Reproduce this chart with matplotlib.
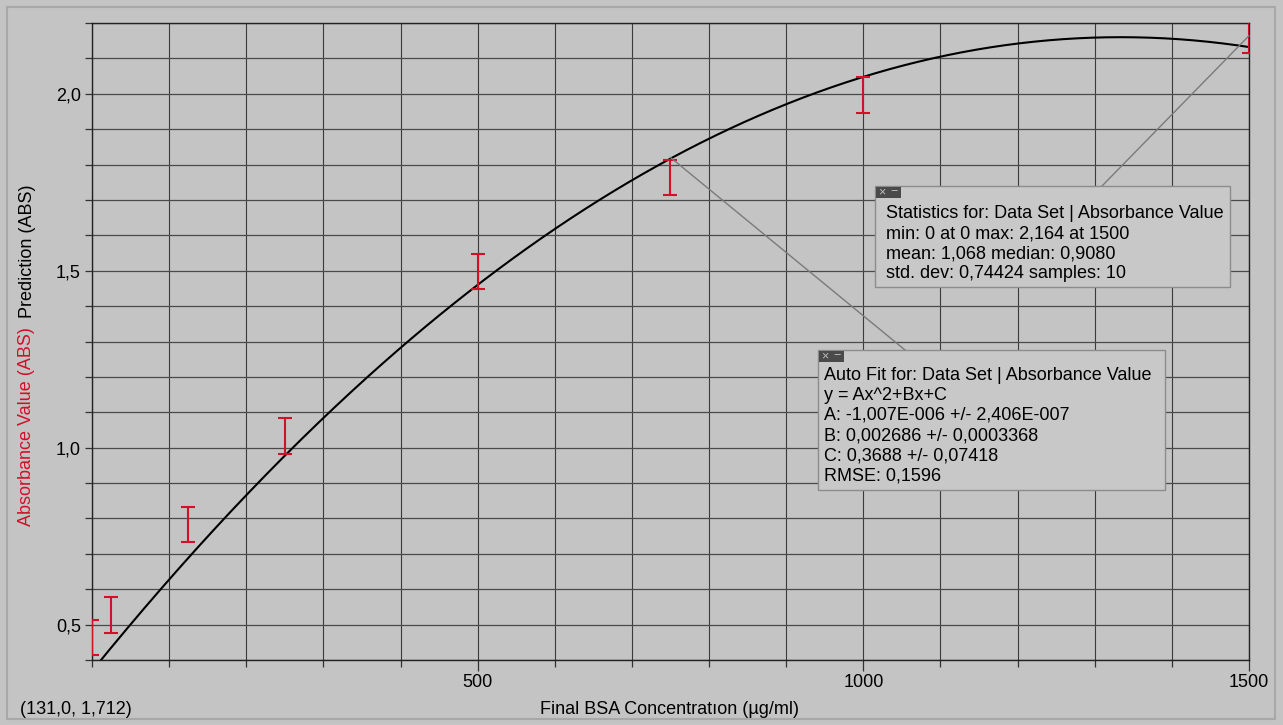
import numpy as np
import matplotlib
matplotlib.use("Agg")
import matplotlib.pyplot as plt
from matplotlib.patches import Rectangle
from matplotlib.lines import Line2D
from matplotlib.ticker import MultipleLocator, FixedLocator

plt.rcParams['font.family'] = ['Liberation Sans', 'DejaVu Sans']

# BSA concentration (ug/ml) and measured absorbance
conc = [0, 0, 25, 125, 250, 500, 750, 1000, 1500]
absorb = [0.0, 0.463, 0.527, 0.783, 1.033, 1.497, 1.764, 1.996, 2.164]
err = [0.05, 0.05, 0.05, 0.05, 0.05, 0.05, 0.05, 0.05, 0.05]

# quadratic auto-fit coefficients from the chart
fit_a = -1.007e-6
fit_b = 0.002686
fit_c = 0.3688

stats_lines = ["Statistics for: Data Set | Absorbance Value",
               "min: 0 at 0 max: 2,164 at 1500",
               "mean: 1,068 median: 0,9080",
               "std. dev: 0,74424 samples: 10"]
fit_lines = ["Auto Fit for: Data Set | Absorbance Value",
             "y = Ax^2+Bx+C",
             "A: -1,007E-006 +/- 2,406E-007",
             "B: 0,002686 +/- 0,0003368",
             "C: 0,3688 +/- 0,07418",
             "RMSE: 0,1596"]

W, H = 1283, 725
bg = '#c4c4c4'
fs = 13
fig = plt.figure(figsize=(W / 100, H / 100), dpi=100, facecolor=bg)


def fx(px):
    return px / W


def fy(py):
    return 1 - py / H


# outer panel frame
fig.patches.append(Rectangle((fx(7), fy(719)), fx(1268), 712 / H,
                             transform=fig.transFigure, fill=False, edgecolor='#a8a8a8', lw=1.5))

ax = fig.add_axes([fx(92), fy(660), fx(1249 - 92), (660 - 23) / H])
ax.set_facecolor(bg)
ax.set_xlim(0, 1500)
ax.set_ylim(0.4, 2.2)

ax.xaxis.set_major_locator(FixedLocator([500, 1000, 1500]))
ax.xaxis.set_minor_locator(MultipleLocator(100))
ax.yaxis.set_major_locator(FixedLocator([0.5, 1.0, 1.5, 2.0]))
ax.yaxis.set_minor_locator(MultipleLocator(0.1))
ax.set_xticklabels(['500', '1000', '1500'], fontsize=fs)
ax.set_yticklabels(['0,5', '1,0', '1,5', '2,0'], fontsize=fs)
ax.tick_params(which='major', length=8, width=0.9, color='#333333', pad=2)
ax.tick_params(axis='y', which='major', length=5, pad=3)
ax.tick_params(which='minor', length=5, width=0.9, color='#333333')
ax.grid(True, which='both', axis='x', color='#3a3a3a', lw=0.8)
ax.grid(True, which='both', axis='y', color='#4a4a4a', lw=0.9)
for s in ax.spines.values():
    s.set_color('#222222')
    s.set_linewidth(1.0)

# fitted curve
xs = np.linspace(0, 1500, 400)
ax.plot(xs, fit_a * xs ** 2 + fit_b * xs + fit_c, color='black', lw=1.5, zorder=3)

# measured values as error bars
ax.errorbar(conc, absorb, yerr=err, fmt='none', ecolor='#d2102a',
            elinewidth=1.5, capsize=5, capthick=1.5, zorder=4)

fig.text(fx(670), fy(709), 'Final BSA Concentratıon (µg/ml)', fontsize=fs,
         ha='center', va='center')
fig.text(fx(27), fy(427), 'Absorbance Value (ABS)', color='#d2102a', fontsize=fs,
         rotation=90, ha='center', va='center')
fig.text(fx(27), fy(251), 'Prediction (ABS)', color='black', fontsize=fs,
         rotation=90, ha='center', va='center')
fig.text(fx(20), fy(709), '(131,0, 1,712)', fontsize=fs, ha='left', va='center')


def box(left, top, right, bottom, lines, tx, ty0, dy):
    fig.patches.append(Rectangle((fx(left), fy(bottom)), fx(right - left), (bottom - top) / H,
                                 transform=fig.transFigure, facecolor='#c8c8c8',
                                 edgecolor='#8c8c8c', lw=1.0, zorder=5))
    fig.patches.append(Rectangle((fx(left + 1), fy(top + 12)), fx(25), 11 / H,
                                 transform=fig.transFigure, facecolor='#4a4a4a',
                                 edgecolor='none', zorder=6))
    fig.text(fx(left + 7), fy(top + 6), '×', color='#bbbbbb', fontsize=9,
             ha='center', va='center', zorder=7)
    fig.text(fx(left + 19), fy(top + 6), '−', color='#bbbbbb', fontsize=9,
             ha='center', va='center', zorder=7)
    for i, t in enumerate(lines):
        fig.text(fx(tx), fy(ty0 + i * dy), t, fontsize=fs, ha='left',
                 va='center', zorder=7)


def leader(x, y, px, py):
    p = ax.transData.transform((x, y))
    q = fig.transFigure.inverted().transform(p)
    fig.lines.append(Line2D([q[0], fx(px)], [q[1], fy(py)], transform=fig.transFigure,
                            color='#7a7a7a', lw=1.0, zorder=2))


leader(1500, 2.164, 1102, 186)
leader(750, 1.82, 905, 350)
box(875, 186, 1230, 287, stats_lines, 886, 214, 19.8)
box(818, 350, 1165, 490, fit_lines, 824, 375, 20.2)

fig.savefig('out.png', dpi=100, facecolor=bg)
